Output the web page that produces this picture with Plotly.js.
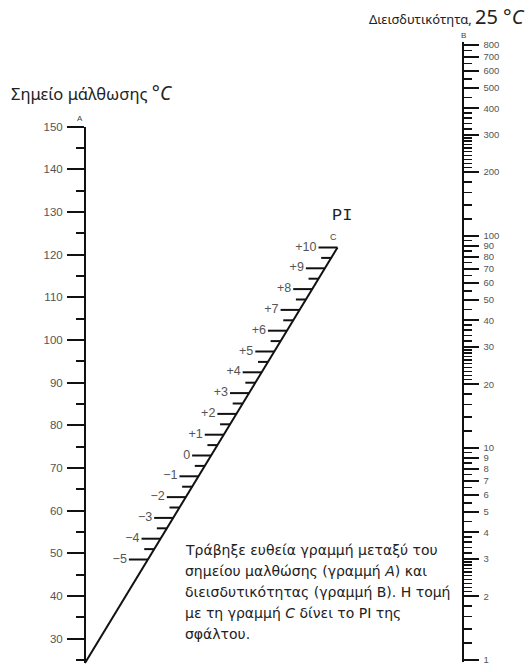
<!DOCTYPE html>
<html><head><meta charset="utf-8">
<script src="https://cdn.plot.ly/plotly-3.0.1.min.js"></script>
<style>html,body{margin:0;padding:0;background:#fff}</style>
</head><body><div id="chart" style="width:529px;height:668px"></div>
<script>
// ---- data: scale values of the nomogram ----
const A_MAJOR = [30,40,50,60,70,80,90,100,110,120,130,140,150];
const A_MINOR = [25,35,45,55,65,75,85,95,105,115,125,135,145];
const B_LABELED = [1,2,3,4,5,6,7,8,9,10,20,30,40,50,60,70,80,90,100,200,300,400,500,600,700,800];
const B_MINOR = [1.2,1.4,1.6,1.8,2.1,2.2,2.3,2.4,2.5,2.6,2.7,2.8,2.9,3.2,3.4,3.6,3.8,4.5,5.5,6.5,7.5,8.5,9.5,
                 12,14,16,18,21,22,23,24,25,26,27,28,29,32,34,36,38,45,55,65,75,85,95,
                 120,140,160,180,210,220,230,240,250,260,270,280,290,320,340,360,380,450,550,650,750];
const PI_MAJOR = [-5,-4,-3,-2,-1,0,1,2,3,4,5,6,7,8,9,10];
const PI_LABELS = ["−5","−4","−3","−2","−1","0","+1","+2","+3","+4","+5","+6","+7","+8","+9","+10"];
const PI_MINOR = [-4.5,-3.5,-2.5,-1.5,-0.5,0.5,1.5,2.5,3.5,4.5,5.5,6.5,7.5,8.5,9.5];
const NOTE_LINES = [
  "Τράβηξε ευθεία γραμμή μεταξύ του",
  "σημείου μαλθώσης (γραμμή <i>A</i>) και",
  "διεισδυτικότητας (γραμμή B). Η τομή",
  "με τη γραμμή <i>C</i> δίνει το PI της",
  "σφάλτου."
];

// ---- geometry (layout) ----
const W = 529, H = 668;
const A_X = 85, B_X = 462.5;
const PI_RANGE = [-10.216, 21.899];
const C_BOTTOM_PI = PI_RANGE[1] - 663 / (H / (PI_RANGE[1] - PI_RANGE[0]));
const C_TOP_PI = 10, C_BOTTOM_X = A_X, C_TOP_X = 337.5;
const cx = p => C_BOTTOM_X + (p - C_BOTTOM_PI) * (C_TOP_X - C_BOTTOM_X) / (C_TOP_PI - C_BOTTOM_PI);
const MAJ = 19, MIN = 10;

function tickSegs(vals, len) {
  const x = [], y = [];
  vals.forEach(v => { x.push(cx(v) - len, cx(v), null); y.push(v, v, null); });
  return {x, y};
}
const majSeg = tickSegs(PI_MAJOR, MAJ), minSeg = tickSegs(PI_MINOR, MIN);

const ink = '#111';
const labelGrey = '#555';
const traces = [
  {x: [cx(C_BOTTOM_PI), cx(C_TOP_PI)], y: [C_BOTTOM_PI, C_TOP_PI], xaxis: 'x', yaxis: 'y3',
   mode: 'lines', line: {color: ink, width: 2}, hoverinfo: 'skip'},
  {x: majSeg.x, y: majSeg.y, xaxis: 'x', yaxis: 'y3', mode: 'lines',
   line: {color: ink, width: 2}, hoverinfo: 'skip'},
  {x: minSeg.x, y: minSeg.y, xaxis: 'x', yaxis: 'y3', mode: 'lines',
   line: {color: ink, width: 2}, hoverinfo: 'skip'},
  {x: PI_MAJOR.map(v => cx(v) - MAJ - 2), y: PI_MAJOR, xaxis: 'x', yaxis: 'y3', mode: 'text',
   text: PI_LABELS, textposition: 'middle left',
   textfont: {family: 'Liberation Sans Narrow, Liberation Sans, sans-serif', size: 12.5, color: labelGrey},
   hoverinfo: 'skip'},
  {x: [A_X, A_X], y: [30, 150], xaxis: 'x', yaxis: 'y', mode: 'lines', line: {width: 0}, hoverinfo: 'skip'},
  {x: [B_X, B_X], y: [1, 800], xaxis: 'x', yaxis: 'y2', mode: 'lines', line: {width: 0}, hoverinfo: 'skip'}
];

const tickFamily = 'Liberation Sans Narrow, Liberation Sans, sans-serif';
const layout = {
  width: W, height: H, margin: {l: 0, r: 0, t: 0, b: 0},
  paper_bgcolor: '#fff', plot_bgcolor: 'rgba(0,0,0,0)', showlegend: false,
  xaxis: {range: [0, W], domain: [0, 1], visible: false, fixedrange: true},
  yaxis: {
    domain: [1 - 663 / H, 1 - 126.5 / H], range: [24.26, 150],
    anchor: 'free', position: A_X / W, side: 'left',
    showline: true, linecolor: ink, linewidth: 2, showgrid: false, zeroline: false,
    tickmode: 'array', tickvals: A_MAJOR, ticktext: A_MAJOR.map(String),
    ticks: 'outside', ticklen: 17, tickwidth: 2, tickcolor: ink,
    minor: {tickmode: 'array', tickvals: A_MINOR, ticks: 'outside', ticklen: 8, tickwidth: 2, tickcolor: ink, showgrid: false},
    tickfont: {family: tickFamily, size: 11.5, color: labelGrey}, ticklabelstandoff: 2, fixedrange: true
  },
  yaxis2: {
    type: 'log', domain: [1 - 662 / H, 1 - 42 / H], range: [-0.0094, 2.915],
    anchor: 'free', position: B_X / W, side: 'right',
    showline: true, linecolor: ink, linewidth: 2, showgrid: false, zeroline: false,
    tickmode: 'array', tickvals: B_LABELED, ticktext: B_LABELED.map(String),
    ticks: 'outside', ticklen: 15, tickwidth: 2, tickcolor: ink,
    minor: {tickmode: 'array', tickvals: B_MINOR, ticks: 'outside', ticklen: 8, tickwidth: 1.5, tickcolor: ink, showgrid: false},
    tickfont: {family: tickFamily, size: 9.5, color: labelGrey}, ticklabelstandoff: 3, fixedrange: true
  },
  yaxis3: {domain: [0, 1], range: PI_RANGE, anchor: 'x', visible: false, fixedrange: true},
  annotations: [
    {xref: 'paper', yref: 'paper', x: 9 / W, y: 1 - 93 / H, xanchor: 'left', yanchor: 'middle', showarrow: false,
     text: 'Σημείο μάλθωσης <span style="font-size:19px">°<i>C</i></span>',
     font: {family: 'Noto Sans, DejaVu Sans, sans-serif', size: 16.5, color: '#222'}},
    {xref: 'paper', yref: 'paper', x: 527 / W, y: 1 - 17 / H, xanchor: 'right', yanchor: 'middle', showarrow: false,
     text: 'Διεισδυτικότητα, <span style="font-size:20px">25 °<i>C</i></span>',
     font: {family: 'Noto Sans, DejaVu Sans, sans-serif', size: 13, color: '#222'}},
    {xref: 'paper', yref: 'paper', x: 80 / W, y: 1 - 119 / H, xanchor: 'center', yanchor: 'middle', showarrow: false,
     text: 'A', font: {family: 'Liberation Sans, sans-serif', size: 8, color: '#444'}},
    {xref: 'paper', yref: 'paper', x: 463 / W, y: 1 - 36 / H, xanchor: 'center', yanchor: 'middle', showarrow: false,
     text: 'B', font: {family: 'Liberation Sans, sans-serif', size: 8, color: '#444'}},
    {xref: 'paper', yref: 'paper', x: 333 / W, y: 1 - 237 / H, xanchor: 'center', yanchor: 'middle', showarrow: false,
     text: 'C', font: {family: 'Liberation Sans, sans-serif', size: 9, color: '#444'}},
    {xref: 'paper', yref: 'paper', x: 342 / W, y: 1 - 215 / H, xanchor: 'center', yanchor: 'middle', showarrow: false,
     text: 'PI', font: {family: 'Liberation Mono, DejaVu Sans Mono, monospace', size: 17, color: '#222'}}
  ].concat(NOTE_LINES.map((t, i) => ({
    xref: 'paper', yref: 'paper', x: 183 / W, y: 1 - (550 + 21 * i) / H, xanchor: 'left', yanchor: 'middle',
    showarrow: false, text: t, font: {family: 'DejaVu Sans, sans-serif', size: 14, color: '#222'}
  })))
};

Plotly.newPlot('chart', traces, layout, {staticPlot: true, displayModeBar: false});
</script>
</body></html>
